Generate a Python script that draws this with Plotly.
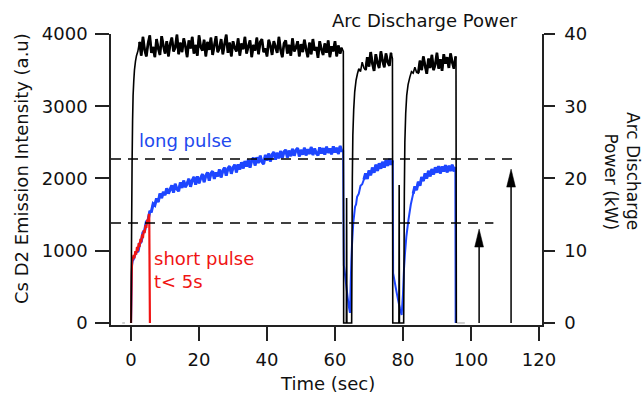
import numpy as np
import plotly.graph_objects as go

# ---------------- data ----------------
# Arc discharge power (kW) - right axis
pw_rise1_t = [0, 0.15, 0.3, 0.45, 0.6, 0.8, 1.0, 1.3, 1.6, 2.0]
pw_rise1_v = [0, 12, 22, 28, 31.5, 33.5, 35, 36.2, 37.0, 37.6]
pw_plat1_t = np.arange(2.5, 62.01, 0.5)
pw_plat1_v = [
    38.9, 37.0, 39.6, 37.8, 36.9, 38.7, 39.8, 37.4, 38.2, 36.8,
    39.3, 38.0, 37.1, 39.7, 38.4, 37.3, 39.0, 36.9, 38.6, 39.5,
    37.6, 38.1, 39.9, 37.2, 38.8, 37.5, 39.4, 38.3, 36.8, 39.1,
    38.0, 39.6, 37.3, 38.5, 37.0, 39.8, 38.2, 37.7, 39.2, 36.9,
    38.9, 37.8, 39.5, 37.1, 38.4, 39.7, 37.5, 38.0, 39.3, 37.2,
    38.6, 39.9, 37.4, 38.8, 36.9, 39.0, 38.1, 37.6, 39.4, 37.0,
    38.7, 37.9, 39.6, 37.3, 38.3, 39.1, 36.8, 38.5, 37.7, 39.5,
    37.2, 38.9, 39.3, 37.5, 38.0, 36.9, 39.2, 38.4, 37.1, 39.0,
    38.2, 37.4, 39.6, 37.8, 36.8, 38.7, 39.1, 37.3, 38.5, 37.0,
    39.4, 37.6, 38.1, 39.0, 36.9, 38.6, 37.5, 39.2, 37.9, 36.8,
    38.8, 37.2, 39.3, 37.7, 38.2, 36.7, 39.0, 37.9, 37.1, 38.7,
    37.4, 39.1, 36.8, 38.3, 37.6, 39.0, 36.9, 38.4, 37.3, 38.1,
]
pw_gap1_t = [62.45, 62.55, 63.35, 63.42, 63.5, 64.9]
pw_gap1_v = [37.6, 0, 0, 17.3, 0, 0]
pw_rise2_t = [65.0, 65.1, 65.25, 65.5, 65.8, 66.2, 66.6, 67.0, 67.5, 68.0, 68.5]
pw_rise2_v = [10, 20, 26, 29.5, 32, 33.6, 34.5, 35.2, 34.8, 36.1, 35.3]
pw_plat2_t = np.arange(69.0, 76.51, 0.5)
pw_plat2_v = [35.0, 36.8, 35.5, 37.5, 35.9, 34.9, 37.2, 36.0,
              35.3, 37.6, 36.3, 35.4, 37.3, 36.1, 35.6, 37.4]
pw_gap2_t = [76.9, 77.0, 78.8, 78.88, 78.96, 80.2]
pw_gap2_v = [36.6, 0, 0, 19.1, 0, 0]
pw_rise3_t = [80.3, 80.4, 80.55, 80.8, 81.1, 81.5, 82.0, 82.5, 83.0, 83.5, 84.0]
pw_rise3_v = [8, 18, 25, 29, 31.5, 33, 34, 34.8, 34.6, 35.4, 34.7]
pw_plat3_t = np.arange(84.5, 95.51, 0.5)
pw_plat3_v = [34.6, 36.3, 35.0, 36.9, 35.6, 34.5, 36.6, 35.3, 37.1, 35.0,
              35.8, 37.4, 35.2, 36.5, 34.9, 37.2, 35.9, 36.8, 35.3, 37.3,
              36.1, 35.2, 36.9]
pw_end_t = [95.6, 95.7]
pw_end_v = [36.0, 0]

# Cs D2 emission, long pulse (a.u.) - left axis
lp_rise_t = [0, 0.1, 0.2, 0.3, 0.5, 0.8]
lp_rise_v = [0, 300, 650, 800, 860, 880]
lp_seg1_t = np.arange(1.0, 62.01, 0.5)
lp_seg1_v = [
    910, 975, 985, 1095, 1130, 1250, 1280, 1400, 1420, 1540,
    1545, 1650, 1630, 1725, 1675, 1790, 1730, 1815, 1770, 1865,
    1790, 1850, 1905, 1805, 1925, 1855, 1825, 1945, 1870, 1970,
    1880, 1930, 1995, 1885, 1975, 2020, 1915, 2030, 1935, 2005,
    2060, 1950, 2040, 2085, 1970, 2070, 2100, 1995, 2085, 2030,
    2125, 2015, 2110, 2150, 2040, 2140, 2170, 2065, 2150, 2190,
    2085, 2195, 2125, 2225, 2140, 2240, 2165, 2260, 2150, 2250,
    2285, 2180, 2295, 2215, 2315, 2230, 2200, 2325, 2250, 2345,
    2235, 2330, 2365, 2260, 2355, 2280, 2380, 2285, 2370, 2395,
    2290, 2385, 2310, 2410, 2315, 2390, 2420, 2305, 2395, 2330,
    2425, 2320, 2405, 2340, 2435, 2325, 2415, 2350, 2320, 2430,
    2345, 2420, 2330, 2440, 2355, 2415, 2335, 2445, 2360, 2425,
    2340, 2450, 2370,
]
lp_drop1_t = [62.4, 62.5, 62.6, 62.9, 63.3, 63.7, 64.1, 64.4]
lp_drop1_v = [2390, 1500, 800, 690, 520, 360, 220, 140]
lp_seg2_t = [64.6, 64.8, 65.0, 65.2, 65.4, 65.6, 65.9, 66.2, 66.5, 67.0,
             67.5, 68.0, 68.5, 69.0, 69.5, 70.0, 70.5, 71.0, 71.5, 72.0,
             72.5, 73.0, 73.5, 74.0, 74.5, 75.0, 75.5, 76.0, 76.5, 76.9]
lp_seg2_v = [500, 850, 1080, 1250, 1400, 1480, 1610, 1640, 1745, 1790,
             1900, 1920, 1985, 2070, 1995, 2110, 2045, 2150, 2080, 2190,
             2105, 2210, 2135, 2230, 2150, 2255, 2175, 2270, 2190, 2250]
lp_drop2_t = [77.0, 77.1, 77.6, 78.1, 78.6, 79.1, 79.6]
lp_drop2_v = [2240, 690, 560, 430, 310, 200, 110]
lp_seg3_t = [80.0, 80.3, 80.6, 81.0, 81.6, 82.3,
             83.0, 83.5, 84.0, 84.5, 85.0, 85.5, 86.0, 86.5, 87.0, 87.5,
             88.0, 88.5, 89.0, 89.5, 90.0, 90.5, 91.0, 91.5, 92.0, 92.5,
             93.0, 93.5, 94.0, 94.5, 95.0, 95.4, 95.5]
lp_seg3_v = [400, 750, 970, 1200, 1425, 1640,
             1790, 1890, 1840, 1955, 1900, 2020, 1965, 2070, 2000, 2105,
             2030, 2130, 2055, 2155, 2080, 2170, 2070, 2165, 2095, 2185,
             2085, 2175, 2105, 2190, 2100, 2160, 0]

# Cs D2 emission, short pulse (a.u.) - left axis
sp_t = [0, 0.1, 0.2, 0.3, 0.5, 0.75, 1.0, 1.25, 1.5, 1.75, 2.0, 2.25, 2.5,
        2.75, 3.0, 3.25, 3.5, 3.75, 4.0, 4.25, 4.5, 4.75, 5.0, 5.2, 5.35, 5.55]
sp_v = [0, 350, 700, 850, 890, 940, 895, 995, 945, 1055, 995, 1105, 1055,
        1165, 1115, 1225, 1175, 1285, 1245, 1355, 1315, 1430, 1395, 1495, 1505, 0]

# baseline stubs (faint)
stub_t = [[-2.6, -1.8], [95.8, 98.2]]

# reference levels (a.u.) and where the dashed lines end (s)
level_vals = [2270, 1385]
level_end_t = [113.0, 106.6]

# arrows: x position (s) and tip level (a.u.)
arrow_t = [102.4, 111.8]
arrow_tip = [1300, 2130]

x_ticks = [0, 20, 40, 60, 80, 100, 120]
y1_ticks = [0, 1000, 2000, 3000, 4000]
y2_ticks = [0, 10, 20, 30, 40]

# ---------------- assemble ----------------
pw_t = np.concatenate([pw_rise1_t, pw_plat1_t, pw_gap1_t, pw_rise2_t, pw_plat2_t,
                       pw_gap2_t, pw_rise3_t, pw_plat3_t, pw_end_t])
pw_v = np.concatenate([pw_rise1_v, pw_plat1_v, pw_gap1_v, pw_rise2_v, pw_plat2_v,
                       pw_gap2_v, pw_rise3_v, pw_plat3_v, pw_end_v])
lp_t = np.concatenate([lp_rise_t, lp_seg1_t, lp_drop1_t, lp_seg2_t, lp_drop2_t, lp_seg3_t])
lp_v = np.concatenate([lp_rise_v, lp_seg1_v, lp_drop1_v, lp_seg2_v, lp_drop2_v, lp_seg3_v])

# noisy plateau parts (drawn a bit heavier, like the dense noise band)
pw_noisy = [(pw_plat1_t, pw_plat1_v), (pw_plat2_t, pw_plat2_v), (pw_plat3_t, pw_plat3_v)]
lp_noisy = [(lp_seg1_t[2:], lp_seg1_v[2:]), (lp_seg2_t[12:], lp_seg2_v[12:]),
            (lp_seg3_t[6:-1], lp_seg3_v[6:-1])]

# ---------------- layout constants ----------------
W, H = 643, 397
ML, MR, MT, MB = 111, 101, 34, 72
PW, PH = W - ML - MR, H - MT - MB
XR = [-5.9, 120.9]
Y1R = [-28, 4000]
Y2R = [-0.28, 40]
FONT = "DejaVu Sans"
BLUE = "#1e46ff"
RED = "#f01414"
AX = "#222222"

px_per_x = PW / (XR[1] - XR[0])
y_per_px = (Y1R[1] - Y1R[0]) / PH

fig = go.Figure()

for st in stub_t:
    fig.add_trace(go.Scatter(x=st, y=[0, 0], mode="lines", yaxis="y",
                             line=dict(color="#a0a0a0", width=1), hoverinfo="skip"))

fig.add_trace(go.Scatter(x=pw_t, y=pw_v, mode="lines", yaxis="y2",
                         line=dict(color="black", width=1.6, simplify=False)))
for nt, nv in pw_noisy:
    fig.add_trace(go.Scatter(x=nt, y=nv, mode="lines", yaxis="y2",
                             line=dict(color="black", width=2.7, simplify=False)))
fig.add_trace(go.Scatter(x=lp_t, y=lp_v, mode="lines", yaxis="y",
                         line=dict(color=BLUE, width=2.0, simplify=False)))
for nt, nv in lp_noisy:
    fig.add_trace(go.Scatter(x=nt, y=nv, mode="lines", yaxis="y",
                             line=dict(color=BLUE, width=3.0, simplify=False)))
fig.add_trace(go.Scatter(x=sp_t, y=sp_v, mode="lines", yaxis="y",
                         line=dict(color=RED, width=2.2, simplify=False)))

for lv, le in zip(level_vals, level_end_t):
    fig.add_trace(go.Scatter(x=[XR[0], le], y=[lv, lv], mode="lines", yaxis="y",
                             line=dict(color="black", width=1.5, dash="10px,7px")))

shapes = []
head_len = 18 * y_per_px
head_hw = 4.4 / px_per_x
for at, tip in zip(arrow_t, arrow_tip):
    shapes.append(dict(type="line", xref="x", yref="y", x0=at, x1=at, y0=0,
                       y1=tip - head_len * 0.5, line=dict(color="black", width=1.5)))
    shapes.append(dict(type="path", xref="x", yref="y",
                       path=f"M {at - head_hw},{tip - head_len} L {at},{tip} L {at + head_hw},{tip - head_len} Z",
                       fillcolor="black", line=dict(color="black", width=0.5)))

def px_x(p):
    return (p - ML) / PW

def px_y(p):
    return (MT + PH - p) / PH

annotations = [
    dict(text="Arc Discharge Power", x=px_x(424.5), y=px_y(21), xref="paper", yref="paper",
         showarrow=False, font=dict(family=FONT, size=18, color="#111"),
         xanchor="center", yanchor="middle"),
    dict(text="long pulse", x=px_x(137), y=px_y(140), xref="paper", yref="paper",
         showarrow=False, font=dict(family=FONT, size=18, color="#2249ee"),
         xanchor="left", yanchor="middle"),
    dict(text="short pulse<br>t< 5s", x=px_x(152), y=px_y(270), xref="paper", yref="paper",
         showarrow=False, align="left", font=dict(family=FONT, size=18, color=RED),
         xanchor="left", yanchor="middle"),
    dict(text="Cs D2 Emission Intensity (a.u)", x=px_x(21), y=px_y(169), xref="paper",
         yref="paper", showarrow=False, textangle=-90,
         font=dict(family=FONT, size=18, color="#111"), xanchor="center", yanchor="middle"),
    dict(text="Arc Discharge<br>Power (kW)", x=px_x(622), y=px_y(171), xref="paper",
         yref="paper", showarrow=False, textangle=90, align="right",
         font=dict(family=FONT, size=17, color="#111"), xanchor="center", yanchor="middle"),
    dict(text="Time (sec)", x=px_x(327), y=px_y(396), xref="paper", yref="paper",
         showarrow=False, font=dict(family=FONT, size=18, color="#111"),
         xanchor="center", yanchor="bottom"),
]

fig.update_layout(
    width=W, height=H, margin=dict(l=ML, r=MR, t=MT, b=MB, pad=0),
    paper_bgcolor="white", plot_bgcolor="white", showlegend=False,
    font=dict(family=FONT, size=18, color="#111"),
    xaxis=dict(range=XR, tickvals=x_ticks, ticks="outside", ticklen=14, tickwidth=1.5,
               tickcolor=AX, showline=True, linecolor=AX, linewidth=1.5,
               showgrid=False, zeroline=False, tickfont=dict(family=FONT, size=18),
               ticklabelstandoff=4),
    yaxis=dict(range=Y1R, tickvals=y1_ticks, ticks="outside", ticklen=14, tickwidth=1.5,
               tickcolor=AX, showline=True, linecolor=AX, linewidth=1.5,
               showgrid=False, zeroline=False, tickfont=dict(family=FONT, size=18),
               ticklabelstandoff=4),
    yaxis2=dict(range=Y2R, tickvals=y2_ticks, ticks="outside", ticklen=11, tickwidth=1.5,
                tickcolor=AX, showline=True, linecolor=AX, linewidth=1.5,
                overlaying="y", side="right", anchor="x",
                showgrid=False, zeroline=False, tickfont=dict(family=FONT, size=18),
                ticklabelstandoff=6),
    shapes=shapes, annotations=annotations,
)

fig.write_html("out.html")
